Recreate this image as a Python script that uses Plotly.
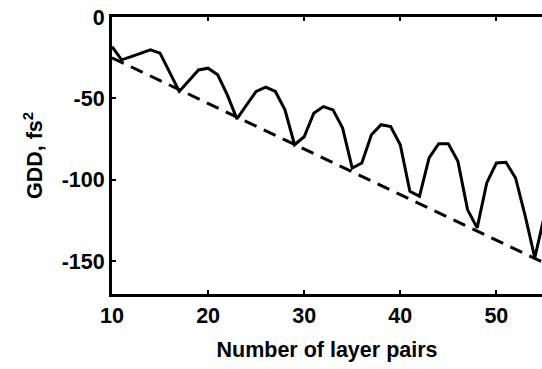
import plotly.graph_objects as go

# Group delay dispersion versus number of layer pairs
pairs = list(range(10, 56))
gdd = [
    -18.2, -26.3, -24.3, -22.2, -20.2, -22.2, -34.0, -45.7, -39.1, -32.5,
    -31.4, -35.5, -47.8, -62.5, -54.0, -45.7, -43.0, -45.7, -57.0, -78.4,
    -73.5, -59.0, -55.0, -57.0, -68.2, -92.7, -89.6, -72.3, -66.1, -67.2,
    -78.4, -107.0, -110.0, -86.5, -77.8, -77.8, -88.6, -118.2, -129.4, -101.8,
    -89.6, -89.2, -98.8, -122.0, -147.8, -122.0,
]

# Linear envelope through the minima
trend_pairs = [10, 55]
trend_gdd = [-25.0, -151.0]

x_ticks = [10, 20, 30, 40, 50]
y_ticks = [0, -50, -100, -150]

font = dict(family="Liberation Sans, Arial, sans-serif", size=21.5, color="black", weight="bold")

fig = go.Figure()
fig.add_trace(go.Scatter(
    x=trend_pairs, y=trend_gdd, mode="lines",
    line=dict(color="black", width=3, dash="13px,8px"),
    showlegend=False, hoverinfo="skip",
))
fig.add_trace(go.Scatter(
    x=pairs, y=gdd, mode="lines",
    line=dict(color="black", width=3),
    showlegend=False,
))

fig.update_layout(
    width=542, height=369,
    margin=dict(l=112, r=0, t=17, b=75, autoexpand=False),
    paper_bgcolor="white", plot_bgcolor="white",
    font=font,
    xaxis=dict(
        range=[10, 54.75], tickvals=x_ticks, ticktext=[str(v) for v in x_ticks],
        showgrid=False, zeroline=False,
        showline=True, linecolor="black", linewidth=3, mirror="ticks",
        ticks="inside", ticklen=4, tickwidth=2, tickcolor="black",
        tickfont=font,
        title=dict(text="Number of layer pairs", font=font, standoff=16),
    ),
    yaxis=dict(
        range=[-170, 0], tickvals=y_ticks, ticktext=[str(v) for v in y_ticks],
        showgrid=False, zeroline=False,
        showline=True, linecolor="black", linewidth=3,
        ticks="inside", ticklen=4, tickwidth=2, tickcolor="black",
        tickfont=font,
        title=dict(text="GDD, fs<sup>2</sup>", font=font, standoff=14),
    ),
    yaxis2=dict(
        overlaying="y", side="right", range=[-170, 0], tickvals=y_ticks,
        showticklabels=False, showgrid=False, zeroline=False, showline=False,
        ticks="inside", ticklen=4, tickwidth=2, tickcolor="black",
    ),
)

fig.write_html("out.html")
